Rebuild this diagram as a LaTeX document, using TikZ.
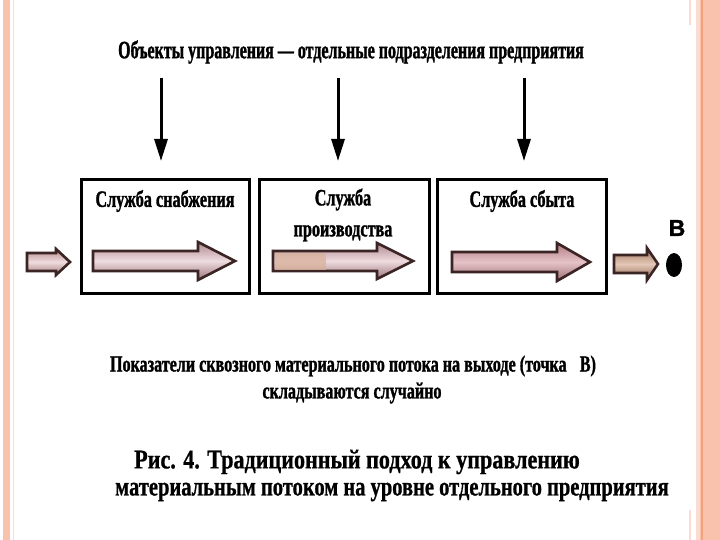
\documentclass[tikz,border=0pt]{standalone}
\usepackage{fontspec}
\setmainfont{Liberation Serif}
\newfontfamily\hdrf{Liberation Serif}[FakeStretch=0.64,FakeBold=1.2]
\newfontfamily\notef{Liberation Serif}[FakeStretch=0.70,FakeBold=1.2]
\newfontfamily\titf{Liberation Serif}[FakeStretch=0.69,FakeBold=1.2]
\newfontfamily\capf{Liberation Serif}[FakeStretch=0.82,FakeBold=0.8]
\newfontfamily\capg{Liberation Serif}[FakeStretch=0.76,FakeBold=0.8]
\newfontfamily\sansb{Liberation Sans}[FakeBold=1.5]
\usetikzlibrary{arrows.meta,shapes.geometric}
\definecolor{stripA}{HTML}{F9C2AC}
\definecolor{stripB}{HTML}{F4A27E}
\definecolor{stripC}{HTML}{FBDCD2}
\definecolor{flowline}{HTML}{3A2424}
\definecolor{flowtop}{HTML}{B08890}
\definecolor{flowmid}{HTML}{EEDCDF}
\definecolor{flowbot}{HTML}{9C747C}
\definecolor{flowred}{HTML}{D0929A}
\definecolor{flowor}{HTML}{C89070}
\newcommand\flowarr[7][]{%
  \draw[flow,#1] (#2,#5-#6) -- (#3,#5-#6) -- (#3,#5-#7) -- (#4,#5)
     -- (#3,#5+#7) -- (#3,#5+#6) -- (#2,#5+#6) -- cycle;}
\begin{document}
\begin{tikzpicture}[x=1pt,y=-1pt,
  hdr/.style={font=\hdrf\bfseries\fontsize{25}{27}\selectfont, inner sep=0},
  note/.style={font=\notef\bfseries\fontsize{23}{25}\selectfont, inner sep=0},
  btitle/.style={font=\titf\bfseries\fontsize{23.5}{31}\selectfont, align=center, inner sep=0},
  capt/.style={font=\capf\bfseries\fontsize{27}{29}\selectfont, inner sep=0},
  captb/.style={font=\capg\bfseries\fontsize{27}{29}\selectfont, inner sep=0},
  boxs/.style={draw=black, line width=2.6pt, fill=white},
  downarr/.style={line width=3pt, -{Triangle[length=22pt,width=13pt]}},
  flow/.style={draw=flowline, line width=2.6pt, line join=miter,
     top color=flowtop, bottom color=flowbot, middle color=flowmid}]
\useasboundingbox (0,0) rectangle (720,540);
\fill[white] (0,0) rectangle (720,540);
% slide border
\fill[stripA] (3,0) rectangle (10,540);
\draw[stripC, line width=1pt] (13,0) -- (13,540);
\fill[stripA] (696,0) rectangle (720,540);
\fill[stripC] (696,0) rectangle (700,540);
\draw[stripB, line width=2pt] (701.5,0) -- (701.5,540);
\draw[stripC, line width=1.5pt] (690,0) -- (690,25);
\draw[stripC, line width=1.5pt] (690,510) -- (690,540);
% header
\node[hdr] (hdr) at (351,52) {Объекты управления — отдельные подразделения предприятия};
% boxes
\node[boxs, minimum width=168, minimum height=114, anchor=north west] (b1) at (80.3,178.3) {};
\node[boxs, minimum width=170, minimum height=114, anchor=north west] (b2) at (258.3,178.3) {};
\node[boxs, minimum width=169, minimum height=114, anchor=north west] (b3) at (436.3,178.3) {};
% down arrows
\coordinate (d1s) at (161,78);  \coordinate (d1e) at (161,161);
\coordinate (d2s) at (338,78);  \coordinate (d2e) at (338,161);
\coordinate (d3s) at (524,78);  \coordinate (d3e) at (524,161);
\draw[downarr] (d1s) -- (d1e);
\draw[downarr] (d2s) -- (d2e);
\draw[downarr] (d3s) -- (d3e);
% box titles
\node[btitle] (t1) at (165,201) {Служба снабжения};
\node[btitle] (t2) at (343,215) {Служба\\производства};
\node[btitle] (t3) at (522,201) {Служба сбыта};
% flow arrows
\flowarr[top color=flowtop!75!flowor, bottom color=flowbot!75!flowor, middle color=flowmid]{27}{56}{70}{262}{9}{13}
\flowarr{93}{198}{235}{261}{10}{19}
\flowarr{273}{377}{413}{261}{10}{18}
\fill[flowor!70!white, opacity=0.75] (274.5,252.5) rectangle (326,269.5);
\flowarr[top color=flowred!85!black, bottom color=flowred!75!black, middle color=flowred!55!white]{452}{557}{590}{262}{10}{19}
\flowarr[top color=flowor!80!black, bottom color=flowor!70!black, middle color=flowor!50!white]{614}{647}{658}{264}{9}{16}
% point B
\node[font=\sansb\bfseries\fontsize{23}{23}\selectfont, inner sep=0] (lblB) at (677,228) {В};
\node[ellipse, fill=black, minimum width=16, minimum height=24, inner sep=0] (ptB) at (674,265) {};
% notes
\node[note] (n1) at (353,366) {Показатели сквозного материального потока на выходе (точка\hspace{0.4em} В)};
\node[note] (n2) at (352,393) {складываются случайно};
% caption
\node[capt] (c1) at (357,462) {Рис. 4. Традиционный подход к управлению};
\node[captb] (c2) at (392,492) {материальным потоком на уровне отдельного предприятия};
\end{tikzpicture}
\end{document}
